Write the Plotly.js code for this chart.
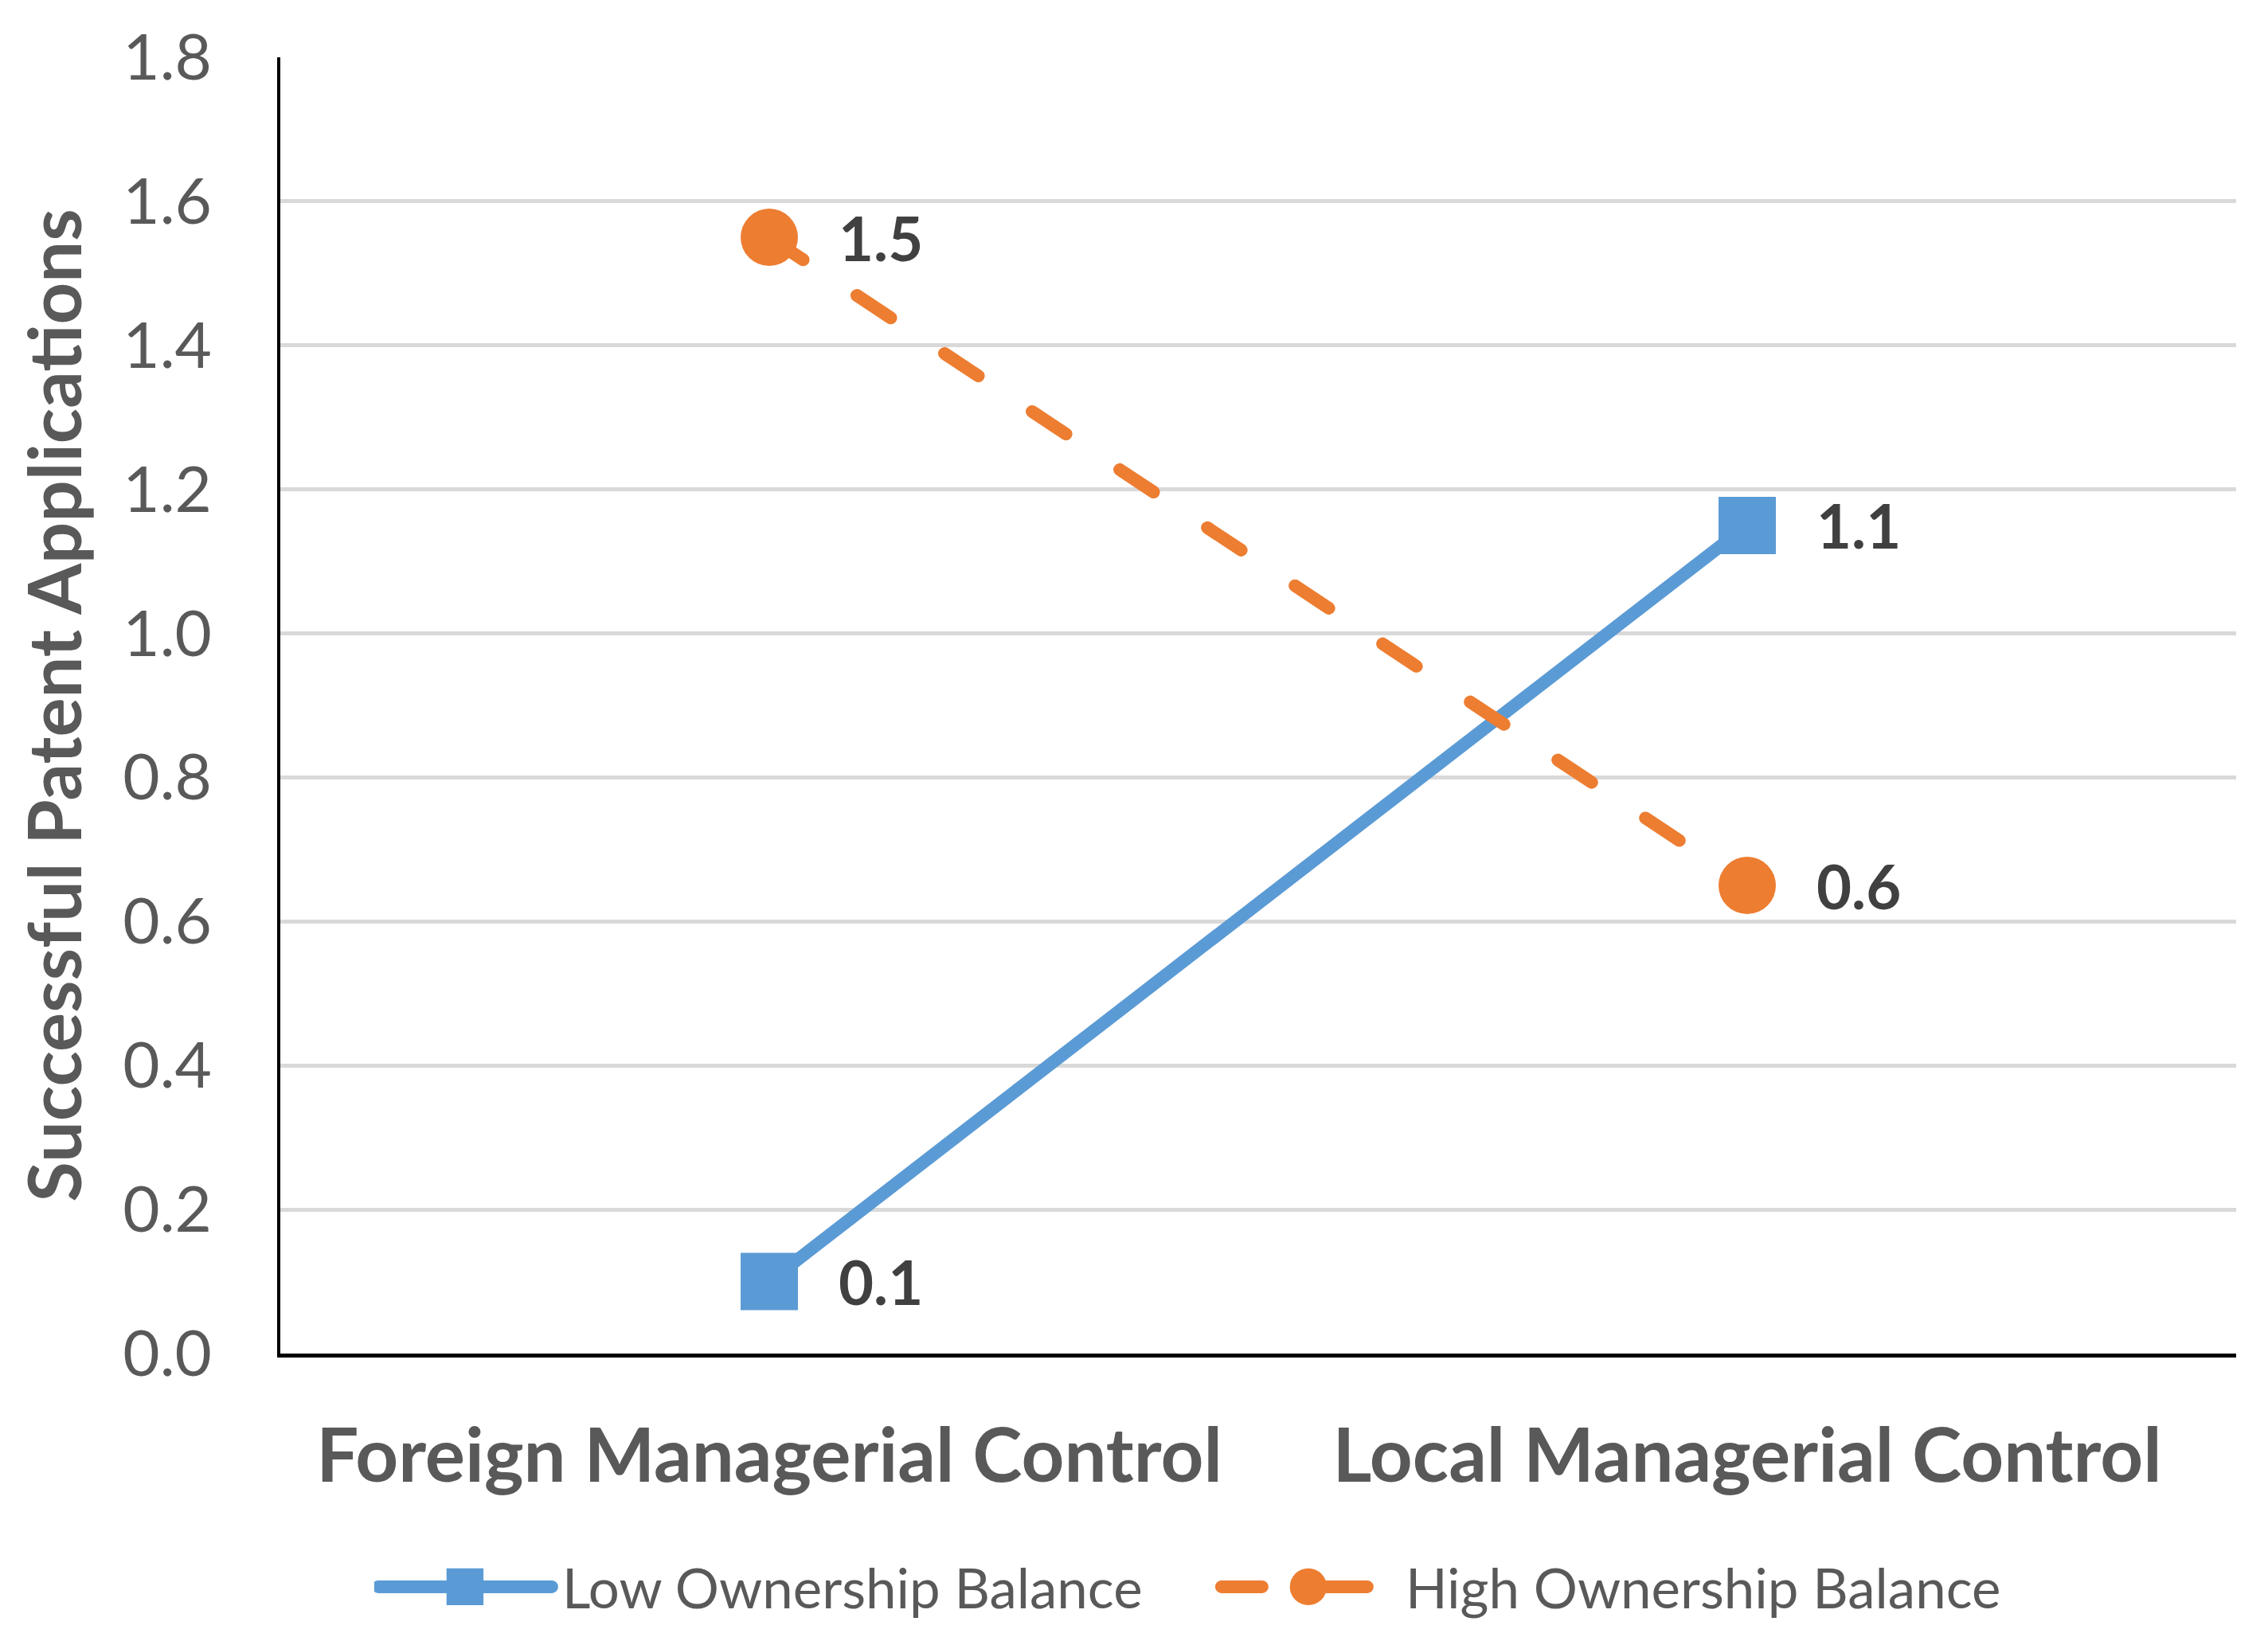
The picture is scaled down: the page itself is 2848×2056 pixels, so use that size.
<!DOCTYPE html>
<html><head><meta charset="utf-8">
<script src="https://cdn.plot.ly/plotly-3.0.1.min.js"></script>
<style>
html,body{margin:0;padding:0;background:#fff;}
#chart{width:2848px;height:2056px;}
.scatterlayer .js-line, .legendlines .js-line {stroke-linecap: round;}
</style></head><body><div id="chart"></div>
<script>
const categories = ['Foreign Managerial Control', 'Local Managerial Control'];
const seriesNames = ['Low Ownership Balance', 'High Ownership Balance'];
const lowValues = [0.10, 1.15];
const highValues = [1.55, 0.65];
const lowLabels = ['0.1', '1.1'];
const highLabels = ['1.5', '0.6'];
const yTitle = 'Successful Patent Applications';

const FONT = 'Lato, "Open Sans", sans-serif';
const BLUE = '#5B9BD5', ORANGE = '#ED7D31';

const data = [
  {x: categories, y: lowValues, name: seriesNames[0], type: 'scatter', mode: 'lines+markers',
   line: {color: BLUE, width: 16},
   marker: {symbol: 'square', size: 72, color: BLUE}},
  {x: categories, y: highValues, name: seriesNames[1], type: 'scatter', mode: 'lines+markers',
   line: {color: ORANGE, width: 16, dash: '51px,81px'},
   marker: {symbol: 'circle', size: 72, color: ORANGE}}
];

const annotations = [];
[[lowValues, lowLabels], [highValues, highLabels]].forEach(([vals, labs]) => {
  vals.forEach((v, i) => annotations.push({
    x: categories[i], y: v, text: labs[i], xref: 'x', yref: 'y',
    showarrow: false, xanchor: 'left', yanchor: 'middle', xshift: 85,
    font: {family: FONT, size: 76, color: '#404040', weight: 700}
  }));
});

const layout = {
  width: 2848, height: 2056,
  margin: {l: 352, r: 40, t: 72, b: 354},
  paper_bgcolor: '#ffffff', plot_bgcolor: '#ffffff',
  showlegend: true,
  xaxis: {type: 'category', range: [-0.5, 1.5], showgrid: false, zeroline: false,
    showline: true, linecolor: '#000000', linewidth: 5, ticks: '',
    tickfont: {family: FONT, size: 94, color: '#595959', weight: 700},
    ticklabelstandoff: 43},
  yaxis: {range: [0, 1.8], dtick: 0.2, tick0: 0, tickformat: '.1f',
    showgrid: true, gridcolor: '#D9D9D9', gridwidth: 5, zeroline: false,
    showline: true, linecolor: '#000000', linewidth: 4, ticks: '',
    tickfont: {family: FONT, size: 80, color: '#595959'},
    ticklabelstandoff: 66,
    title: {text: yTitle, standoff: 22, font: {family: FONT, size: 92, color: '#595959', weight: 700}}},
  legend: {orientation: 'h', x: 0.048, xanchor: 'left', y: -0.18, yanchor: 'middle',
    font: {family: FONT, size: 69, color: '#595959'}, itemwidth: 218, entrywidth: 826,
    bgcolor: 'rgba(0,0,0,0)'},
  annotations: annotations
};

Plotly.newPlot('chart', data, layout, {staticPlot: true}).then(gd => {
  gd.querySelectorAll('.legend .legendpoints path.scatterpts').forEach(p => {
    const t = p.getAttribute('transform') || '';
    p.setAttribute('transform', t + ' scale(2.9)');
  });
  gd.querySelectorAll('.legend .legendlines path').forEach(p => { p.style.strokeWidth = '16px'; });
  gd.querySelectorAll('.legend text.legendtext').forEach(t => {
    const x = parseFloat(t.getAttribute('x') || '0');
    t.setAttribute('x', x + 8);
  });
});
</script></body></html>
